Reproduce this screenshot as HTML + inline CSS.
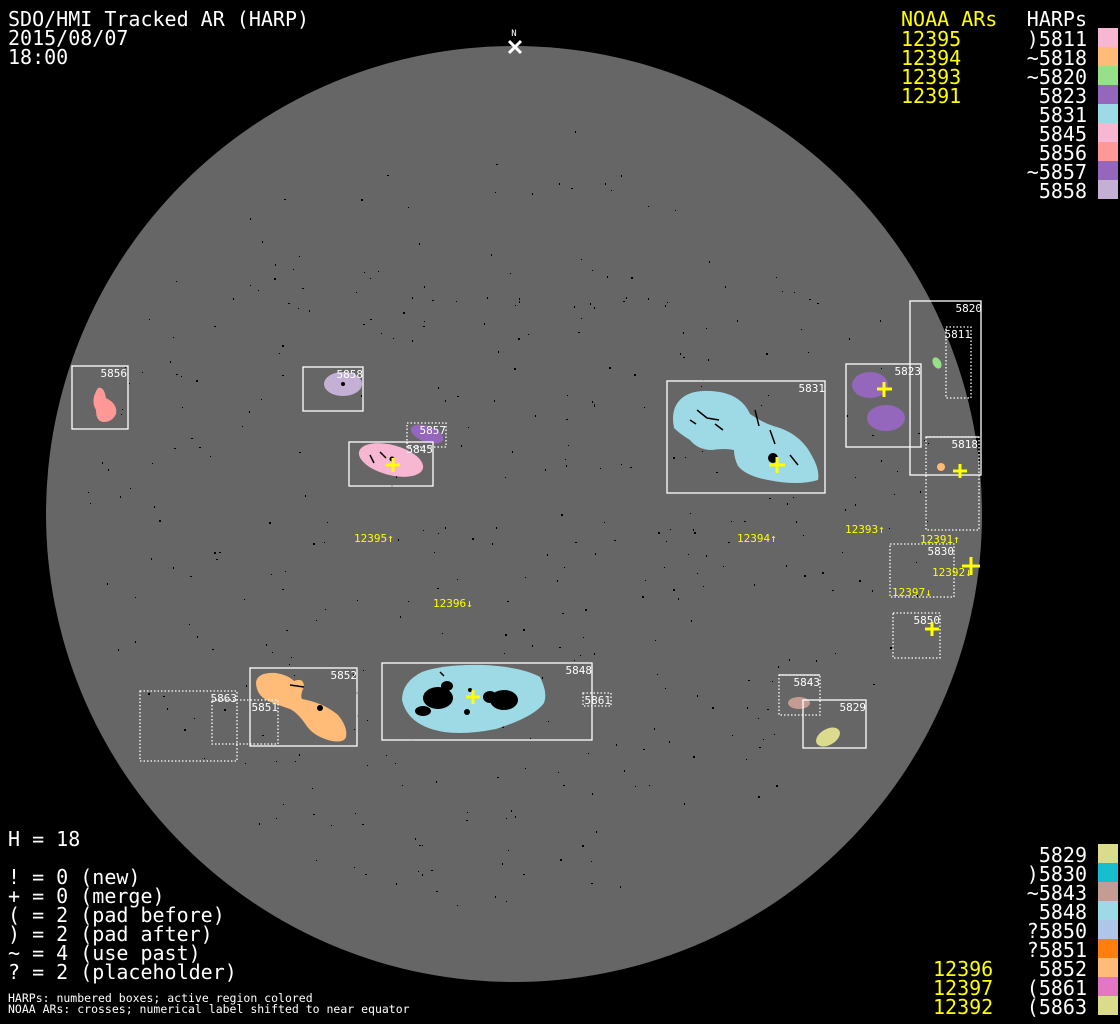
<!DOCTYPE html>
<html><head><meta charset="utf-8"><style>
html,body{margin:0;padding:0;background:#000;width:1120px;height:1024px;overflow:hidden}
svg{display:block}
text{font-family:"DejaVu Sans Mono","Liberation Mono",monospace}
.t{fill:#fff;font-size:20px}
.y{fill:#ffff00;font-size:20px}
.b{fill:#fff;font-size:11px}
.yl{fill:#ffff00;font-size:11px}
.sm{fill:#fff;font-size:11.5px}
.s{fill:none;stroke:#fff;stroke-width:1.3}
.d{fill:none;stroke:#fff;stroke-width:1.3;stroke-dasharray:1.5 2}
.x{stroke:#ffff00;stroke-width:3;fill:none}
</style></head><body>
<svg id="s" width="1120" height="1024" viewBox="0 0 1120 1024" xmlns="http://www.w3.org/2000/svg">
<rect width="1120" height="1024" fill="#000"/>
<circle cx="514" cy="514" r="468" fill="#666"/>
<g id="dots"></g>
<!-- blobs -->
<path d="M98,388 q6,-2 8,10 q12,6 10,16 q-4,8 -12,8 q-8,0 -8,-12 q-6,-10 2,-22z" fill="#ff9896"/>
<ellipse cx="343" cy="384" rx="19" ry="12" fill="#c5b0d5"/>
<ellipse cx="427" cy="434" rx="17" ry="8" transform="rotate(20 427 434)" fill="#9467bd"/>
<ellipse cx="391" cy="460" rx="33" ry="15" transform="rotate(15 391 460)" fill="#f7b6d2"/>
<path d="M682,398 q12,-10 38,-6 q22,4 30,22 q14,10 30,14 q22,8 32,28 q8,14 6,24 q-20,6 -50,0 q-22,-4 -30,-14 q-4,-8 -4,-16 q-10,-2 -22,0 q-14,0 -22,-10 q-10,-6 -16,-12 q-4,-20 8,-30z" fill="#9edae5"/>
<ellipse cx="870" cy="385" rx="18" ry="13" fill="#9467bd"/>
<ellipse cx="886" cy="418" rx="19" ry="13" fill="#9467bd"/>
<ellipse cx="937" cy="363" rx="4" ry="6" transform="rotate(-30 937 363)" fill="#98df8a"/>
<circle cx="941" cy="467" r="4" fill="#ffbb78"/>
<ellipse cx="799" cy="703" rx="11" ry="6" fill="#c49c94"/>
<ellipse cx="828" cy="737" rx="13" ry="8" transform="rotate(-30 828 737)" fill="#dbdb8d"/>
<path d="M402,700 q0,-18 20,-28 q22,-8 62,-7 q38,2 56,12 q8,16 4,26 q-10,14 -48,26 q-30,6 -52,3 q-36,-6 -42,-32z" fill="#9edae5"/>
<path d="M256,682 q2,-10 20,-9 q12,2 18,8 q10,-4 10,6 q-4,8 -2,12 q22,4 36,16 q10,12 8,22 q-2,6 -14,4 q-18,-4 -26,-16 q-8,-12 -16,-16 q-12,-4 -22,-8 q-12,-6 -12,-19z" fill="#ffbb78"/>
<g fill="#000">
<ellipse cx="438" cy="698" rx="15" ry="11"/><ellipse cx="423" cy="711" rx="8" ry="5"/><ellipse cx="447" cy="686" rx="6" ry="5"/>
<ellipse cx="504" cy="700" rx="14" ry="10"/><ellipse cx="490" cy="697" rx="7" ry="6"/><circle cx="467" cy="712" r="3"/><circle cx="470" cy="690" r="2"/>
<circle cx="773" cy="458" r="5"/><circle cx="320" cy="708" r="3"/><circle cx="392" cy="459" r="2.5"/><circle cx="343" cy="384" r="2"/>
</g>
<g stroke="#000" stroke-width="1.5" fill="none">
<path d="M697,410 l10,8 l12,2 M715,424 l8,6 M755,410 l4,16 M770,430 l5,14 M690,420 l6,4 M790,455 l8,10"/>
<path d="M370,455 l4,8 M380,452 l6,6 M290,685 l14,2 M440,672 l4,4"/>
</g>
<!-- boxes -->
<rect class="s" x="72" y="366" width="56" height="63"/>
<rect class="s" x="303" y="367" width="60" height="44"/>
<rect class="d" x="407" y="423" width="39" height="24"/>
<rect class="s" x="349" y="442" width="84" height="44"/>
<rect class="s" x="667" y="381" width="158" height="112"/>
<rect class="s" x="846" y="364" width="75" height="83"/>
<rect class="s" x="910" y="301" width="71" height="174"/>
<rect class="d" x="946" y="327" width="25" height="71"/>
<rect class="d" x="926" y="437" width="53" height="93"/><line class="s" x1="926" y1="437" x2="979" y2="437"/>
<rect class="d" x="890" y="544" width="64" height="53"/>
<rect class="d" x="893" y="613" width="47" height="45"/>
<rect class="d" x="779" y="675" width="41" height="40"/><line class="s" x1="779" y1="675" x2="820" y2="675"/>
<rect class="s" x="803" y="700" width="63" height="48"/>
<rect class="s" x="382" y="663" width="210" height="77"/>
<rect class="d" x="583" y="693" width="28" height="13"/>
<rect class="s" x="250" y="668" width="107" height="78"/>
<rect class="d" x="212" y="700" width="66" height="44"/>
<rect class="d" x="140" y="691" width="97" height="70"/>
<!-- box labels -->
<g class="b" text-anchor="end">
<text x="127" y="377">5856</text><text x="363" y="378">5858</text><text x="446" y="434">5857</text>
<text x="433" y="453">5845</text><text x="825" y="392">5831</text><text x="921" y="375">5823</text>
<text x="982" y="312">5820</text><text x="971" y="338">5811</text><text x="978" y="448">5818</text>
<text x="954" y="555">5830</text><text x="940" y="624">5850</text><text x="820" y="686">5843</text>
<text x="866" y="711">5829</text><text x="592" y="674">5848</text><text x="611" y="704">5861</text>
<text x="357" y="679">5852</text><text x="278" y="711">5851</text><text x="237" y="702">5863</text>
</g>
<!-- crosses -->
<g class="x">
<path d="M393,458v14M386,465h14"/><path d="M777,457v16M769,465h16"/><path d="M884,382v15M877,389h15"/>
<path d="M960,464v14M953,471h14"/><path d="M971,557v18M962,566h18"/><path d="M932,622v14M925,629h14"/>
<path d="M473,690v14M466,697h14"/>
</g>
<g class="yl">
<text x="354" y="542">12395↑</text><text x="737" y="542">12394↑</text><text x="845" y="533">12393↑</text>
<text x="920" y="543">12391↑</text><text x="932" y="576">12392↓</text><text x="892" y="596">12397↓</text>
<text x="433" y="607">12396↓</text>
</g>
<!-- N marker -->
<text x="514" y="36" fill="#fff" text-anchor="middle" style="font-size:9px">N</text>
<path d="M509,41l12,12M521,41l-12,12" stroke="#fff" stroke-width="3"/>
<!-- title -->
<text class="t" x="8" y="26">SDO/HMI Tracked AR (HARP)</text>
<text class="t" x="8" y="45">2015/08/07</text>
<text class="t" x="8" y="64">18:00</text>
<!-- top legend -->
<text class="y" x="901" y="26">NOAA ARs</text>
<text class="y" x="901" y="46">12395</text><text class="y" x="901" y="65">12394</text>
<text class="y" x="901" y="84">12393</text><text class="y" x="901" y="103">12391</text>
<g class="t" text-anchor="end">
<text x="1087" y="26">HARPs</text>
<text x="1087" y="46">)5811</text><text x="1087" y="65">~5818</text><text x="1087" y="84">~5820</text>
<text x="1087" y="103">5823</text><text x="1087" y="122">5831</text><text x="1087" y="141">5845</text>
<text x="1087" y="160">5856</text><text x="1087" y="179">~5857</text><text x="1087" y="198">5858</text>
</g>
<rect x="1098" y="28" width="20" height="19" fill="#f7b6d2"/>
<rect x="1098" y="47" width="20" height="19" fill="#ffbb78"/>
<rect x="1098" y="66" width="20" height="19" fill="#98df8a"/>
<rect x="1098" y="85" width="20" height="19" fill="#9467bd"/>
<rect x="1098" y="104" width="20" height="19" fill="#9edae5"/>
<rect x="1098" y="123" width="20" height="19" fill="#f7b6d2"/>
<rect x="1098" y="142" width="20" height="19" fill="#ff9896"/>
<rect x="1098" y="161" width="20" height="19" fill="#9467bd"/>
<rect x="1098" y="180" width="20" height="19" fill="#c5b0d5"/>
<!-- bottom right legend -->
<g class="t" text-anchor="end">
<text x="1087" y="862">5829</text><text x="1087" y="881">)5830</text><text x="1087" y="900">~5843</text>
<text x="1087" y="919">5848</text><text x="1087" y="938">?5850</text><text x="1087" y="957">?5851</text>
<text x="1087" y="976">5852</text><text x="1087" y="995">(5861</text><text x="1087" y="1014">(5863</text>
</g>
<text class="y" x="933" y="976">12396</text><text class="y" x="933" y="995">12397</text><text class="y" x="933" y="1014">12392</text>
<rect x="1098" y="844" width="20" height="19" fill="#dbdb8d"/>
<rect x="1098" y="863" width="20" height="19" fill="#17becf"/>
<rect x="1098" y="882" width="20" height="19" fill="#c49c94"/>
<rect x="1098" y="901" width="20" height="19" fill="#9edae5"/>
<rect x="1098" y="920" width="20" height="19" fill="#aec7e8"/>
<rect x="1098" y="939" width="20" height="19" fill="#ff7f0e"/>
<rect x="1098" y="958" width="20" height="19" fill="#ffbb78"/>
<rect x="1098" y="977" width="20" height="19" fill="#e377c2"/>
<rect x="1098" y="996" width="20" height="19" fill="#dbdb8d"/>
<!-- bottom left legend -->
<text class="t" x="8" y="846">H = 18</text>
<text class="t" x="8" y="884">! = 0 (new)</text>
<text class="t" x="8" y="903">+ = 0 (merge)</text>
<text class="t" x="8" y="922">( = 2 (pad before)</text>
<text class="t" x="8" y="941">) = 2 (pad after)</text>
<text class="t" x="8" y="960">~ = 4 (use past)</text>
<text class="t" x="8" y="979">? = 2 (placeholder)</text>
<text class="sm" x="8" y="1002">HARPs: numbered boxes; active region colored</text>
<text class="sm" x="8" y="1013">NOAA ARs: crosses; numerical label shifted to near equator</text>
</svg>
<script>
(function(){var g=document.getElementById('dots');var s=12345;function r(){s=(s*1103515245+12345)%2147483648;return s/2147483648;}
var h='';for(var i=0;i<420;i++){var a=r()*6.2832,d=Math.sqrt(r())*430;var x=514+d*Math.cos(a),y=514+d*Math.sin(a)*0.92;
if(y<250&&r()<0.6)continue;
var w=1+(r()<0.3?1:0),hh=1+(r()<0.4?1:0);h+='<rect x="'+x.toFixed(0)+'" y="'+y.toFixed(0)+'" width="'+w+'" height="'+hh+'" fill="#000"/>';}
g.innerHTML=h;})();
</script>
</body></html>
